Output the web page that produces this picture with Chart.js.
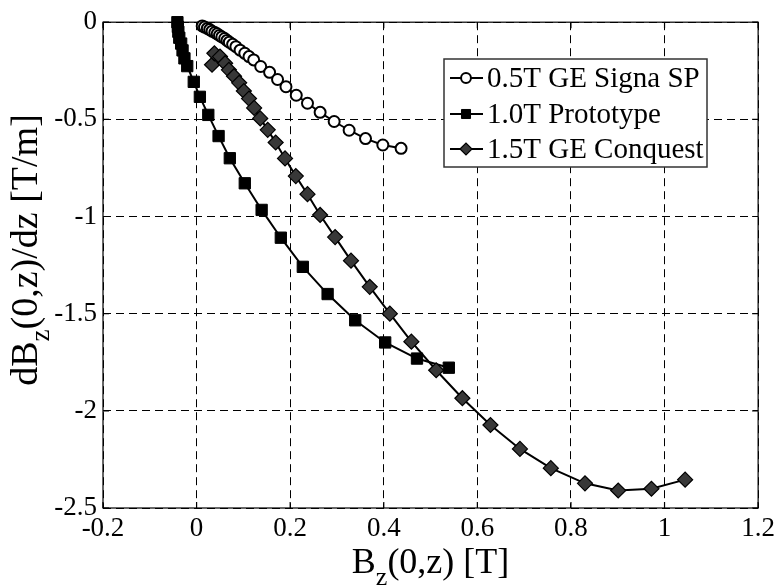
<!DOCTYPE html>
<html>
<head>
<meta charset="utf-8">
<script src="https://cdn.jsdelivr.net/npm/chart.js@4/dist/chart.umd.min.js"></script>
<style>
  html, body { margin: 0; padding: 0; background: #ffffff; }
  #wrap { width: 780px; height: 588px; }
</style>
</head>
<body>
<div id="wrap"><canvas id="c" width="780" height="588"></canvas></div>
<script>
// ---- data ----
const seriesLabels = ['0.5T GE Signa SP', '1.0T Prototype', '1.5T GE Conquest'];

const signaX = [0.012,0.017,0.023,0.028,0.033,0.039,0.044,0.049,0.054,0.060,0.065,0.070,0.077,0.084,0.093,0.103,0.112,0.122,0.137,0.156,0.173,0.191,0.213,0.237,0.264,0.294,0.326,0.361,0.398,0.437];
const signaY = [-0.019,-0.025,-0.032,-0.038,-0.046,-0.053,-0.060,-0.068,-0.076,-0.084,-0.094,-0.103,-0.114,-0.126,-0.144,-0.160,-0.177,-0.194,-0.228,-0.258,-0.295,-0.332,-0.376,-0.417,-0.464,-0.511,-0.556,-0.599,-0.632,-0.649];

const protoX = [-0.041,-0.040,-0.039,-0.037,-0.033,-0.030,-0.026,-0.020,-0.006,0.007,0.025,0.047,0.071,0.103,0.139,0.180,0.227,0.280,0.339,0.403,0.471,0.539];
const protoY = [0.000,-0.024,-0.049,-0.080,-0.110,-0.145,-0.186,-0.226,-0.307,-0.384,-0.477,-0.586,-0.700,-0.829,-0.966,-1.109,-1.259,-1.399,-1.534,-1.648,-1.731,-1.778];

const conqX = [0.033,0.038,0.050,0.061,0.069,0.080,0.091,0.101,0.112,0.123,0.136,0.152,0.169,0.189,0.212,0.237,0.264,0.296,0.330,0.370,0.413,0.459,0.512,0.568,0.628,0.691,0.757,0.830,0.901,0.972,1.044];
const conqY = [-0.219,-0.160,-0.177,-0.211,-0.245,-0.278,-0.312,-0.354,-0.393,-0.441,-0.495,-0.554,-0.619,-0.701,-0.792,-0.885,-0.992,-1.106,-1.227,-1.362,-1.500,-1.644,-1.791,-1.935,-2.073,-2.196,-2.295,-2.373,-2.410,-2.401,-2.354];

const xTickValues = [-0.2, 0, 0.2, 0.4, 0.6, 0.8, 1, 1.2];
const xTickLabels = ['-0.2', '0', '0.2', '0.4', '0.6', '0.8', '1', '1.2'];
const yTickValues = [0, -0.5, -1, -1.5, -2, -2.5];
const yTickLabels = ['0', '-0.5', '-1', '-1.5', '-2', '-2.5'];

// axis titles: [text, isSubscript]
const xTitleParts = [['B', false], ['z', true], ['(0,z) [T]', false]];
const yTitleParts = [['dB', false], ['z', true], ['(0,z)/dz [T/m]', false]];

// ---- chart ----
const FONT = '"Liberation Serif", "Times New Roman", Times, serif';
const toPts = (xs, ys) => xs.map((x, i) => ({ x: x, y: ys[i] }));

const styles = [
  { pointStyle: 'circle', pointRadius: 5.5, backgroundColor: '#ffffff', borderColor: '#000000', pointBorderWidth: 2 },
  { pointStyle: 'rect', pointRadius: 8, backgroundColor: '#000000', borderColor: '#000000', pointBorderWidth: 1 },
  { pointStyle: 'rectRot', pointRadius: 7.5, backgroundColor: '#383838', borderColor: '#000000', pointBorderWidth: 1.2 }
];
const dataSets = [toPts(signaX, signaY), toPts(protoX, protoY), toPts(conqX, conqY)];

const datasets = dataSets.map((d, i) => ({
  label: seriesLabels[i],
  data: d,
  showLine: true,
  tension: 0,
  borderWidth: 2,
  borderColor: '#000000',
  backgroundColor: styles[i].backgroundColor,
  pointBackgroundColor: styles[i].backgroundColor,
  pointBorderColor: styles[i].borderColor,
  pointBorderWidth: styles[i].pointBorderWidth,
  pointStyle: styles[i].pointStyle,
  pointRadius: styles[i].pointRadius,
  pointHoverRadius: styles[i].pointRadius,
  clip: false,
  order: 2 - i
}));

function drawParts(ctx, parts, size) {
  const subSize = Math.round(size * 0.72);
  let total = 0;
  const widths = parts.map(p => {
    ctx.font = (p[1] ? subSize : size) + 'px ' + FONT;
    const w = ctx.measureText(p[0]).width;
    total += w;
    return w;
  });
  let x = -total / 2;
  parts.forEach((p, i) => {
    ctx.font = (p[1] ? subSize : size) + 'px ' + FONT;
    ctx.fillText(p[0], x, p[1] ? size * 0.32 : 0);
    x += widths[i];
  });
}

const framePlugin = {
  id: 'frame',
  beforeDatasetsDraw(chart) {
    const { ctx, chartArea: a, scales } = chart;
    ctx.save();
    ctx.strokeStyle = '#000000';
    ctx.lineWidth = 1.2;
    ctx.setLineDash([]);
    ctx.strokeRect(a.left, a.top, a.right - a.left, a.bottom - a.top);
    ctx.beginPath();
    const tl = 6;
    xTickValues.forEach(v => {
      const px = scales.x.getPixelForValue(v);
      ctx.moveTo(px, a.top); ctx.lineTo(px, a.top + tl);
      ctx.moveTo(px, a.bottom); ctx.lineTo(px, a.bottom - tl);
    });
    yTickValues.forEach(v => {
      const py = scales.y.getPixelForValue(v);
      ctx.moveTo(a.left, py); ctx.lineTo(a.left + tl, py);
      ctx.moveTo(a.right, py); ctx.lineTo(a.right - tl, py);
    });
    ctx.stroke();
    ctx.restore();
  },
  afterDraw(chart) {
    const { ctx, chartArea: a } = chart;
    ctx.save();
    ctx.fillStyle = '#000000';
    ctx.textBaseline = 'alphabetic';
    ctx.textAlign = 'left';
    // x title
    ctx.save();
    ctx.translate((a.left + a.right) / 2, 573);
    drawParts(ctx, xTitleParts, 36);
    ctx.restore();
    // y title
    ctx.save();
    ctx.translate(37, 250);
    ctx.rotate(-Math.PI / 2);
    drawParts(ctx, yTitleParts, 38);
    ctx.restore();

    // legend
    const bx = 444, by = 59, bw = 263, bh = 108;
    ctx.fillStyle = '#ffffff';
    ctx.fillRect(bx, by, bw, bh);
    ctx.strokeStyle = '#333333';
    ctx.lineWidth = 1.5;
    ctx.strokeRect(bx, by, bw, bh);
    const rows = [78, 114, 149];
    chart.data.datasets.forEach((ds, i) => {
      const y = rows[i];
      ctx.strokeStyle = '#000000';
      ctx.lineWidth = 2;
      ctx.beginPath();
      ctx.moveTo(450, y); ctx.lineTo(483, y);
      ctx.stroke();
      ctx.fillStyle = ds.pointBackgroundColor;
      ctx.strokeStyle = ds.pointBorderColor;
      ctx.lineWidth = ds.pointBorderWidth;
      Chart.helpers.drawPoint(ctx, {
        pointStyle: ds.pointStyle,
        radius: ds.pointRadius * (i === 0 ? 0.9 : 0.8),
        borderWidth: ds.pointBorderWidth,
        rotation: 0
      }, 466, y);
      ctx.fillStyle = '#000000';
      ctx.font = '29px ' + FONT;
      ctx.textBaseline = 'middle';
      ctx.fillText(ds.label, 487, y + 1);
    });
    ctx.restore();
  }
};

new Chart(document.getElementById('c'), {
  type: 'scatter',
  data: { datasets: datasets },
  options: {
    responsive: false,
    animation: false,
    devicePixelRatio: 1,
    layout: { padding: { left: 0, right: 17, top: 13, bottom: 0 } },
    plugins: { legend: { display: false }, tooltip: { enabled: false } },
    scales: {
      x: {
        type: 'linear',
        min: -0.2, max: 1.2,
        afterBuildTicks: s => { s.ticks = xTickValues.map(v => ({ value: v })); },
        afterFit: s => { s.height = 80; },
        ticks: {
          color: '#000000',
          font: { family: FONT, size: 27 },
          padding: 5,
          maxRotation: 0,
          autoSkip: false,
          callback: (v, i) => xTickLabels[i]
        },
        grid: { color: '#000000', lineWidth: 1, drawTicks: false },
        border: { display: false, dash: [8, 5] }
      },
      y: {
        type: 'linear',
        min: -2.5, max: 0,
        afterBuildTicks: s => { s.ticks = yTickValues.map(v => ({ value: v })); },
        afterFit: s => { s.width = 103; },
        ticks: {
          color: '#000000',
          font: { family: FONT, size: 27 },
          padding: 6,
          autoSkip: false,
          callback: (v, i) => yTickLabels[i]
        },
        grid: { color: '#000000', lineWidth: 1, drawTicks: false },
        border: { display: false, dash: [8, 5] }
      }
    }
  },
  plugins: [framePlugin]
});
</script>
</body>
</html>
